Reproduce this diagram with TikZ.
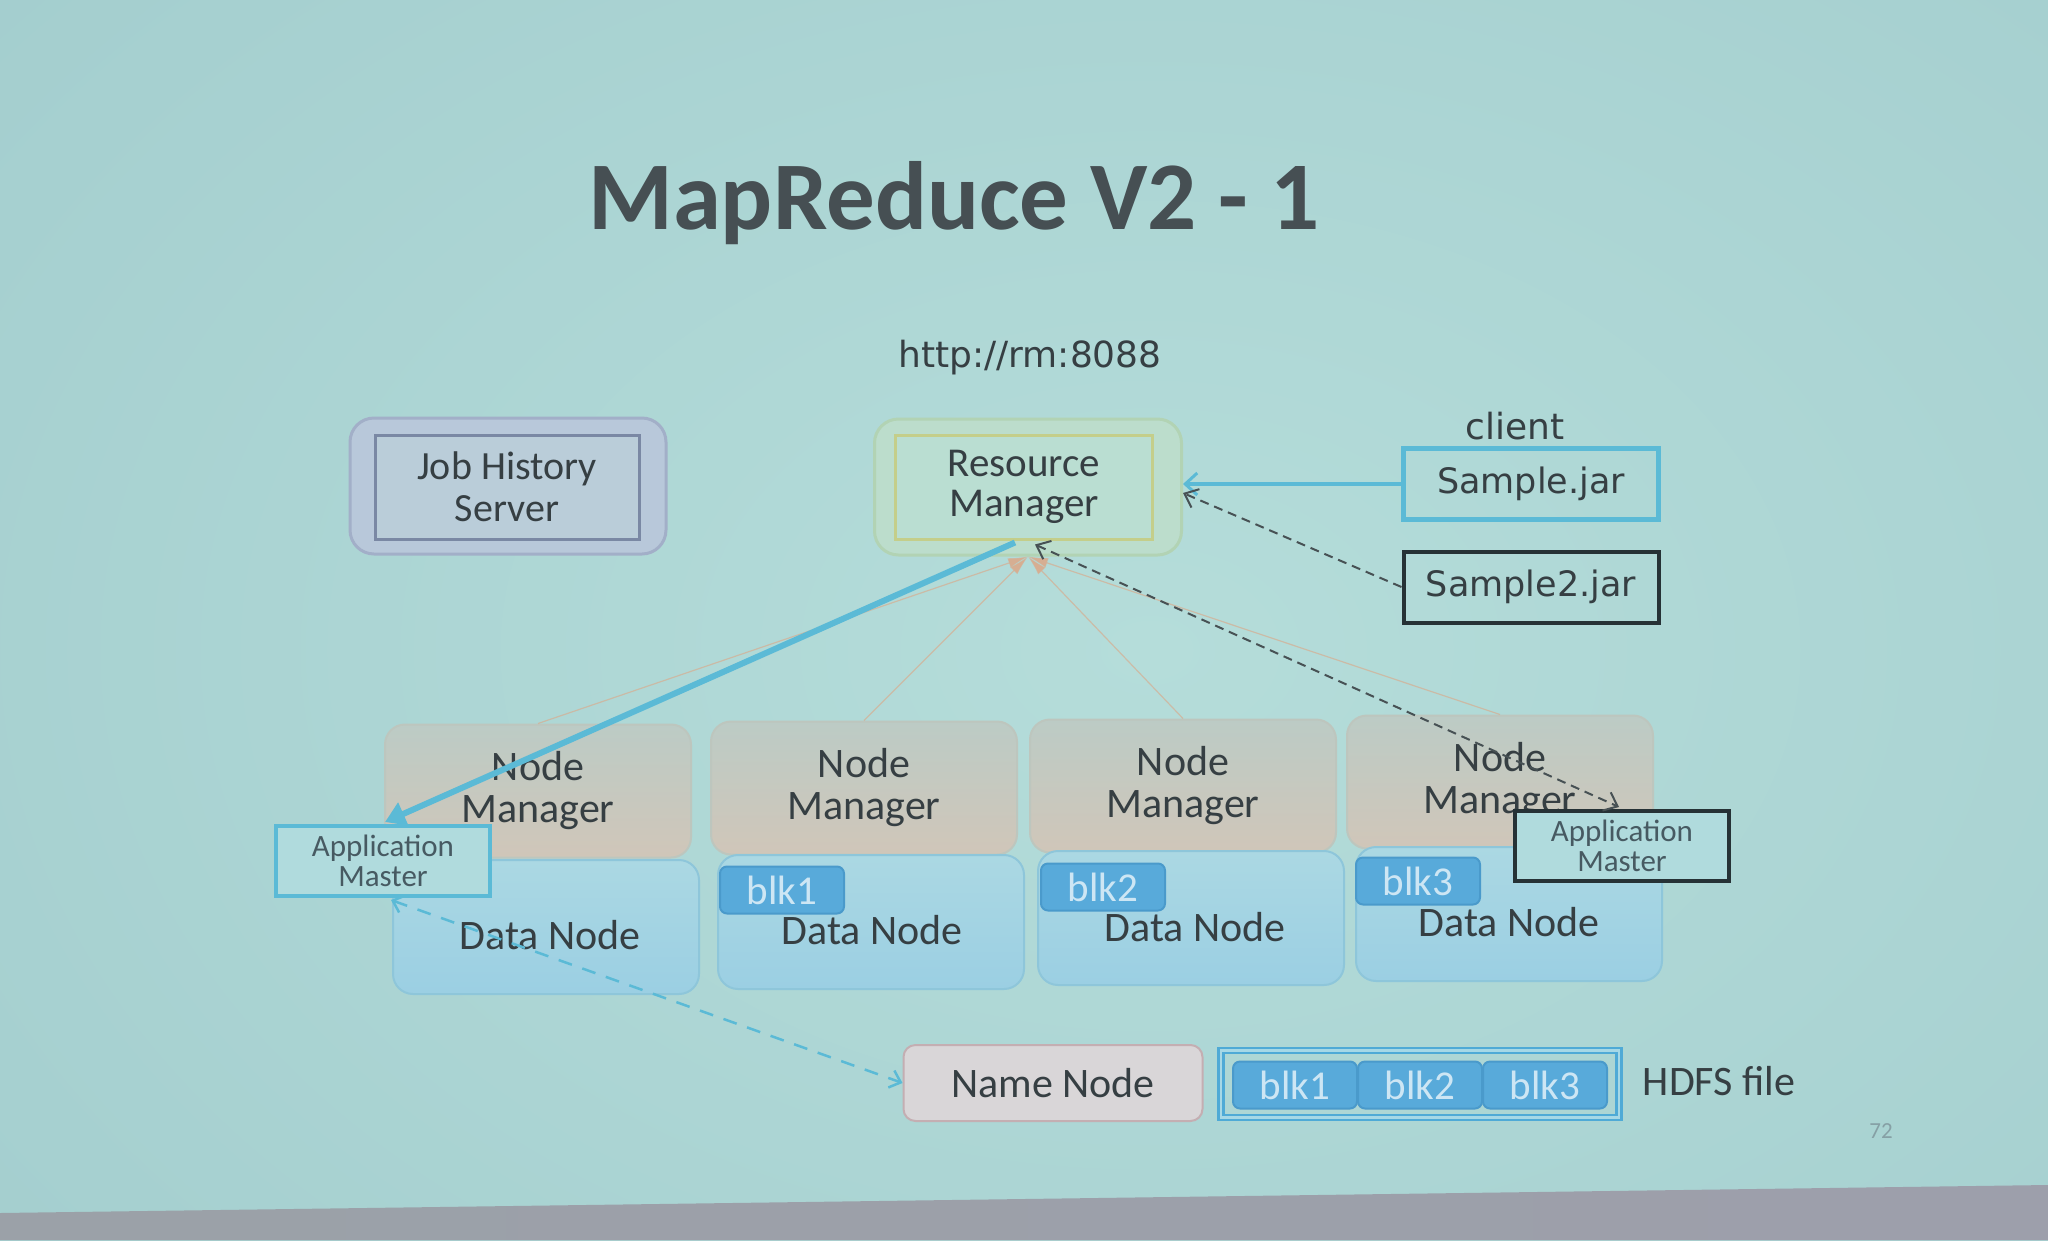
\documentclass[tikz,border=0pt]{standalone}
\usepackage{fontspec}
\setmainfont{Carlito}
\newfontfamily\verd{DejaVu Sans}
\usetikzlibrary{arrows.meta,calc}

\newcommand\fsz[2]{\fontsize{#1}{#2}\selectfont}

% palette
\definecolor{bgbase}{HTML}{97C3C6}
\definecolor{bgmid}{HTML}{B5DDDA}
\definecolor{ink}{HTML}{363F43}
\definecolor{titleink}{HTML}{464F53}
\definecolor{jhsfill}{HTML}{B8C8DA}
\definecolor{jhsedge}{HTML}{A2AFC8}
\definecolor{jhsinedge}{HTML}{7A88A4}
\definecolor{jhsinfill}{HTML}{BACDD9}
\definecolor{rmfill}{HTML}{BCDDCC}
\definecolor{rmedge}{HTML}{B2D3B4}
\definecolor{rminedge}{HTML}{C4CE8A}
\definecolor{rminfill}{HTML}{BADED2}
\definecolor{nmtop}{HTML}{BCCBC5}
\definecolor{nmbot}{HTML}{D0C6B9}
\definecolor{nmedge}{HTML}{BDC6BE}
\definecolor{dntop}{HTML}{ABD8E3}
\definecolor{dnbot}{HTML}{9BCFE3}
\definecolor{dnedge}{HTML}{8EC6DA}
\definecolor{blkfill}{HTML}{58AADA}
\definecolor{blkedge}{HTML}{4A9ACB}
\definecolor{blktext}{HTML}{CDE6F4}
\definecolor{jarblue}{HTML}{5BBAD6}
\definecolor{jardark}{HTML}{263236}
\definecolor{amfill}{HTML}{B0DBDD}
\definecolor{amtext}{HTML}{475A62}
\definecolor{nnfill}{HTML}{D9D6D8}
\definecolor{nnedge}{HTML}{C4AEB2}
\definecolor{hdfsedge}{HTML}{4FAAD6}
\definecolor{hdfsgap}{HTML}{A6D8E6}
\definecolor{wire}{HTML}{D6AE92}
\definecolor{pagenum}{HTML}{86A0A5}
\definecolor{screenL}{HTML}{9BA1A8}
\definecolor{screenR}{HTML}{9D9FAB}

\begin{document}
\begin{tikzpicture}[x=1pt,y=-1pt,
  txt/.style={text=ink, inner sep=0pt},
  verdtxt/.style={txt, font=\verd\fsz{36}{36}},
  outerbox/.style={rounded corners=24pt, line width=3pt, minimum width=#1, minimum height=136pt, inner sep=0pt},
  innerbox/.style={line width=3pt, minimum width=#1, minimum height=104pt, inner sep=0pt, align=center, text=ink},
  jarbox/.style={line width=#1, minimum width=255pt, minimum height=71pt, inner sep=0pt, text=ink, font=\verd\fsz{35}{35}},
  nmbox/.style={draw=nmedge, line width=2pt, rounded corners=20pt, top color=nmtop, bottom color=nmbot,
                minimum width=306pt, minimum height=133pt, inner sep=0pt, align=center, text=ink, font=\fsz{42}{42}},
  dnbox/.style={draw=dnedge, line width=2pt, rounded corners=20pt, top color=dntop, bottom color=dnbot,
                minimum width=306pt, minimum height=134pt, inner sep=0pt},
  dntext/.style={txt, font=\fsz{42}{42}},
  blkbox/.style={draw=blkedge, line width=2pt, fill=blkfill, rounded corners=7pt, minimum width=124pt,
                 minimum height=47pt, inner sep=0pt, text=blktext, font=\fsz{41}{41}},
  ambox/.style={draw=#1, line width=4pt, fill=amfill, minimum width=214pt, minimum height=70pt,
                inner sep=0pt, align=center, text=amtext, font=\fsz{31}{30}},
  wireline/.style={draw=wire, draw opacity=0.7, line width=1.2pt, {Latex[length=20pt,width=10pt]}-},
  thickblue/.style={draw=jarblue, line width=6pt, -{Triangle[length=20pt,width=24pt]}},
  submit/.style={draw=jarblue, line width=4pt, -{Straight Barb[length=12pt,width=22pt,line width=3pt]}},
  darkdash/.style={draw=jardark!85, line width=2pt, dash pattern=on 9pt off 6pt},
  bluedash/.style={draw=jarblue, line width=2.5pt, dash pattern=on 14pt off 11pt,
                   {Straight Barb[length=10pt,width=18pt]}-{Straight Barb[length=10pt,width=18pt]}}
]
\useasboundingbox (0,0) rectangle (2048,1240);

% slide background with a brighter middle
\fill[bgbase] (0,0) rectangle (2048,1240);
\begin{scope}
  \clip (0,0) rectangle (2048,1240);
  \shade[inner color=bgmid, outer color=bgbase] (1150,650) ellipse [x radius=2600pt, y radius=1800pt];
\end{scope}
% strip below the projected slide
\shade[left color=screenL, right color=screenR] (0,1213) -- (2048,1185) -- (2048,1240) -- (0,1240) -- cycle;

% title and address
\node[anchor=base, text=titleink, inner sep=0pt, font=\bfseries\fsz{97}{97}] (title) at (954,229) {MapReduce V2 - 1};
\node[verdtxt] (url) at (1030,358) {http://rm:8088};

% job history server
\node[outerbox=316pt, draw=jhsedge, fill=jhsfill] (jhso) at (508,486) {};
\node[innerbox=264pt, draw=jhsinedge, fill=jhsinfill, font=\fsz{40}{42}] (jhs) at (507,487) {Job History\\Server};

% resource manager
\node[outerbox=307pt, draw=rmedge, fill=rmfill] (rmo) at (1028,487) {};
\node[innerbox=257pt, draw=rminedge, fill=rminfill, font=\fsz{41}{40}] (rmi) at (1024,487) {Resource\\Manager};

% client jars
\node[verdtxt] (client) at (1515,426) {client};
\node[jarbox=5pt, draw=jarblue] (s1) at (1531,484) {Sample.jar};
\node[jarbox=4pt, draw=jardark] (s2) at (1531,587) {Sample2.jar};

% node managers
\node[nmbox] (nm1) at (538,791) {Node\\Manager};
\node[nmbox] (nm2) at (864,788) {Node\\Manager};
\node[nmbox] (nm3) at (1183,786) {Node\\Manager};
\node[nmbox] (nm4) at (1500,782) {Node\\Manager};

% data nodes
\node[dnbox] (dn1) at (546,927) {};
\node[dnbox] (dn2) at (871,922) {};
\node[dnbox] (dn3) at (1191,918) {};
\node[dnbox] (dn4) at (1509,914) {};
\node[dntext] (dn1t) at ($(dn1.center)+(4,8)$) {Data Node};
\node[dntext] (dn2t) at ($(dn2.center)+(1,8)$) {Data Node};
\node[dntext] (dn3t) at ($(dn3.center)+(4,9)$) {Data Node};
\node[dntext] (dn4t) at ($(dn4.center)+(0,8)$) {Data Node};

% stored blocks
\node[blkbox] (b1) at (782,890) {blk1};
\node[blkbox] (b2) at (1103,887) {blk2};
\node[blkbox] (b3) at (1418,881) {blk3};

% name node and the file
\node[draw=nnedge, line width=2pt, fill=nnfill, rounded corners=12pt, minimum width=299pt, minimum height=76pt,
      inner sep=0pt, text=ink, font=\fsz{42}{42}] (nn) at (1053,1083) {Name Node};
\node[draw=hdfsedge, line width=2.5pt, double=hdfsgap, double distance=2.5pt, minimum width=398pt,
      minimum height=67pt, inner sep=0pt] (hdfs) at (1420,1084) {};
\node[blkbox] (f1) at (1295,1085) {blk1};
\node[blkbox] (f2) at (1420,1085) {blk2};
\node[blkbox] (f3) at (1545,1085) {blk3};
\node[txt, font=\fsz{42}{42}] (hdfst) at (1719,1081) {HDFS file};
\node[inner sep=0pt, text=pagenum, font=\fsz{23}{23}] (page) at (1881,1131) {72};

% application masters
\node[ambox=jarblue] (am1) at (383,861) {Application\\Master};
\node[ambox=jardark] (am2) at (1622,846) {Application\\Master};

% heartbeats from the node managers
\draw[wireline] (rmo.south) -- (nm1.north);
\draw[wireline] (rmo.south) -- (nm2.north);
\draw[wireline] (rmo.south) -- (nm3.north);
\draw[wireline] (rmo.south) -- (nm4.north);

% job submission
\draw[submit] (s1.west) -- (s1.west -| rmo.east);
\draw[darkdash, -{Straight Barb[length=12pt,width=20pt]}] (s2.west) -- ($(rmo.east)+(0,6)$);

% application masters and the resource manager
\draw[thickblue] ($(rmi.south)+(-9,2)$) -- ($(am1.north)+(2,-2)$);
\draw[darkdash, {Straight Barb[length=12pt,width=20pt]}-{Straight Barb[length=12pt,width=20pt]}]
  ($(rmi.south)+(11,4)$) -- ($(am2.north)+(-3,-2)$);

% block lookup on the name node
\draw[bluedash] ($(am1.south)+(8,2)$) -- (nn.west);
\end{tikzpicture}
\end{document}
